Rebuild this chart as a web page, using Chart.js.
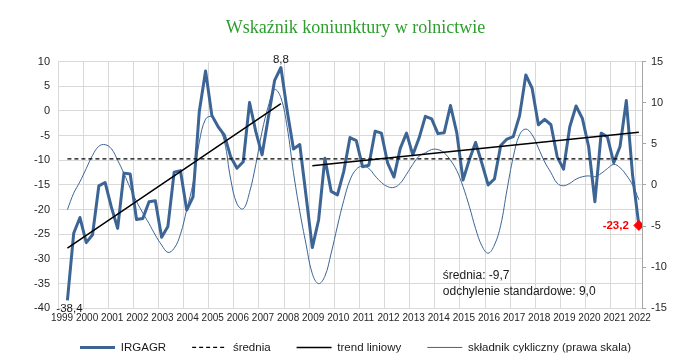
<!DOCTYPE html>
<html>
<head>
<meta charset="utf-8">
<title>Wskaźnik koniunktury w rolnictwie</title>
<script src="https://cdn.jsdelivr.net/npm/chart.js"></script>
<style>
  html, body { margin: 0; padding: 0; background: #fff; }
  #wrap { width: 695px; height: 363px; }
</style>
</head>
<body>
<div id="wrap"><canvas id="chart"></canvas></div>
<script>
// quarterly series: first point 1999 Q2, last point 2022 Q1
const startYear = 1999;
const startQuarter = 2;

// IRGAGR (left scale)
const irgagr = [
  -38.4, -24.8, -21.6, -26.7, -25.1, -15.2, -14.5, -19.5, -23.8, -12.6,
  -12.8, -22.0, -21.8, -18.4, -18.2, -25.6, -23.4, -12.4, -12.1, -20.1,
  -17.4, -0.1, 8.1, -0.9, -3.2, -4.9, -9.3, -11.6, -10.3, 1.7,
  -4.2, -8.9, -1.3, 6.2, 8.8, 0.0, -7.7, -6.8, -17.2, -27.7,
  -22.1, -9.6, -16.3, -17.0, -12.3, -5.4, -6.0, -11.3, -11.0, -4.1,
  -4.5, -10.6, -13.4, -7.6, -4.5, -8.9, -5.5, -1.1, -1.6, -4.6,
  -4.4, 1.1, -4.4, -14.0, -9.9, -6.4, -10.6, -15.0, -13.8, -7.0,
  -5.7, -5.2, -1.0, 7.3, 4.6, -2.8, -1.7, -2.8, -9.3, -11.8,
  -3.2, 1.0, -1.5, -7.2, -18.4, -4.5, -5.3, -10.5, -7.2, 2.1,
  -13.0, -23.2
];

// cyclical component (right scale)
const cyclical = [
  -3.0, -1.0, 0.4, 2.0, 3.6, 4.7, 4.9, 4.4, 3.0, 1.4,
  -0.4, -2.0, -3.4, -4.7, -6.1, -7.3, -8.2, -7.7, -6.0, -3.0,
  0.2, 5.2, 8.0, 8.3, 7.2, 5.3, 0.7, -2.3, -2.9, -0.9,
  2.5, 6.5, 9.6, 11.6, 10.6, 7.0, 1.5, -3.2, -7.2, -10.8,
  -12.0, -11.1, -8.3, -5.0, -1.9, 0.6, 1.9, 2.3, 2.0, 1.1,
  0.3, -0.2, -0.3, 0.2, 1.3, 2.5, 3.5, 3.9, 4.3, 4.3,
  3.9, 3.0, 1.75, -0.2, -2.6, -5.3, -7.4, -8.3, -7.3, -4.9,
  -0.6, 3.4, 6.1, 6.8, 6.1, 4.5, 2.8, 1.5, 0.2, -0.1,
  0.2, 0.7, 1.0, 1.1, 1.0, 1.4, 2.0, 2.5, 2.1, 1.2,
  0.0, -1.8
];

// linear trend: two segments (quarter index -> value)
const trendIndex = [0, 34, 39, 91];
const trendValue = [-27.8, 1.5, -11.1, -4.3];

const meanValue = -9.7;
const stdDev = 9.0;

const blue = '#3C6595';
const fontSans = "'Liberation Sans', Arial, sans-serif";

const quarterX = i => startYear + (startQuarter - 1 + i + 0.5) / 4;
const fmt = v => v.toFixed(1).replace('.', ',');
const last = irgagr.length - 1;

const irgPoints = irgagr.map((v, i) => ({x: quarterX(i), y: v}));
const cycPoints = cyclical.map((v, i) => ({x: quarterX(i), y: v}));
const trendPoints = [
  {x: quarterX(trendIndex[0]), y: trendValue[0]},
  {x: quarterX(trendIndex[1]), y: trendValue[1]},
  {x: quarterX((trendIndex[1] + trendIndex[2]) / 2), y: null},
  {x: quarterX(trendIndex[2]), y: trendValue[2]},
  {x: quarterX(trendIndex[3]), y: trendValue[3]}
];
const meanPoints = [{x: quarterX(0), y: meanValue}, {x: quarterX(last), y: meanValue}];

// labels next to chosen points, stats box
const textNotes = {
  id: 'textNotes',
  afterDatasetsDraw(chart) {
    const {ctx, scales} = chart;
    const irgMeta = chart.getDatasetMeta(0);
    ctx.save();
    ctx.fillStyle = '#1a1a1a';
    ctx.font = '11.5px ' + fontSans;
    ctx.textAlign = 'center';
    ctx.textBaseline = 'middle';

    const p0 = irgMeta.data[0];
    ctx.fillText(fmt(irgagr[0]), p0.x + 2, p0.y + 8);

    const iMax = irgagr.indexOf(Math.max(...irgagr));
    const pm = irgMeta.data[iMax];
    ctx.fillText(fmt(irgagr[iMax]), pm.x, pm.y - 8);

    const pl = chart.getDatasetMeta(4).data[0];
    ctx.fillStyle = '#FF0000';
    ctx.font = 'bold 11.5px ' + fontSans;
    ctx.textAlign = 'right';
    ctx.fillText(fmt(irgagr[last]), pl.x - 10, pl.y + 0.5);

    ctx.fillStyle = '#1a1a1a';
    ctx.font = '12px ' + fontSans;
    ctx.textAlign = 'left';
    const nx = scales.x.getPixelForValue(2014.32);
    const ny = scales.y.getPixelForValue(-33.4);
    ctx.fillText('średnia: ' + fmt(meanValue), nx, ny);
    ctx.fillText('odchylenie standardowe: ' + fmt(stdDev), nx, ny + 16);
    ctx.restore();
  }
};

// the legend keeps wide gaps between items but sits closer to the axis labels
const legendLift = {
  id: 'legendLift',
  afterLayout(chart) {
    chart.legend.top -= 10.6;
    chart.legend.bottom -= 10.6;
  }
};

new Chart(document.getElementById('chart'), {
  type: 'line',
  data: {
    datasets: [
      {
        label: 'IRGAGR',
        data: irgPoints,
        borderColor: blue,
        borderWidth: 3,
        borderJoinStyle: 'round',
        pointRadius: 0,
        tension: 0,
        yAxisID: 'y',
        order: 2
      },
      {
        label: 'średnia',
        data: meanPoints,
        borderColor: '#000000',
        borderWidth: 1.3,
        borderDash: [4, 3],
        pointRadius: 0,
        yAxisID: 'y',
        order: 1
      },
      {
        label: 'trend liniowy',
        data: trendPoints,
        borderColor: '#000000',
        borderWidth: 1.5,
        pointRadius: 0,
        spanGaps: false,
        yAxisID: 'y',
        order: 0
      },
      {
        label: 'składnik cykliczny (prawa skala)',
        data: cycPoints,
        borderColor: blue,
        borderWidth: 1,
        pointRadius: 0,
        tension: 0.4,
        yAxisID: 'y2',
        order: 3
      },
      {
        label: '',
        data: [irgPoints[last]],
        showLine: false,
        pointStyle: 'rectRot',
        pointRadius: 5,
        pointBackgroundColor: '#FF0000',
        pointBorderColor: '#FF0000',
        yAxisID: 'y',
        order: -1
      }
    ]
  },
  options: {
    responsive: true,
    maintainAspectRatio: false,
    animation: false,
    layout: { padding: { left: 16, right: 0, top: 0, bottom: 0 } },
    plugins: {
      tooltip: { enabled: false },
      title: {
        display: true,
        text: 'Wskaźnik koniunktury w rolnictwie',
        color: '#2E9E2E',
        font: { family: "'Liberation Serif', 'Times New Roman', serif", size: 18, weight: 'normal' },
        padding: { top: 17, bottom: 23 }
      },
      legend: {
        position: 'bottom',
        maxHeight: 36.7,
        labels: {
          usePointStyle: true,
          pointStyleWidth: 35,
          padding: 26,
          color: '#1a1a1a',
          font: { family: fontSans, size: 11.5 },
          generateLabels: chart => chart.data.datasets
            .map((ds, i) => ({
              text: ds.label,
              datasetIndex: i,
              strokeStyle: ds.borderColor,
              fillStyle: ds.borderColor,
              lineWidth: ds.borderWidth,
              lineDash: ds.borderDash || [],
              pointStyle: 'line',
              hidden: false,
              fontColor: '#1a1a1a'
            }))
            .filter(item => item.text)
        }
      }
    },
    scales: {
      x: {
        type: 'linear',
        min: 1999,
        max: 2022.25,
        afterFit: s => { s.height = 18; },
        border: { display: false },
        grid: { color: '#D9D9D9', drawTicks: false },
        ticks: {
          stepSize: 1,
          includeBounds: false,
          autoSkip: false,
          maxRotation: 0,
          padding: 4,
          labelOffset: 4,
          color: '#262626',
          font: { family: fontSans, size: 10 },
          callback: v => String(v)
        }
      },
      y: {
        position: 'left',
        min: -40,
        max: 10,
        afterFit: s => { s.width = 42; },
        border: { display: false },
        grid: { color: '#D9D9D9', drawTicks: false },
        ticks: {
          stepSize: 5,
          padding: 8,
          color: '#262626',
          font: { family: fontSans, size: 11 }
        }
      },
      y2: {
        position: 'right',
        min: -15,
        max: 15,
        afterFit: s => { s.width = 53; },
        border: { display: true, color: '#A6A6A6' },
        grid: { drawOnChartArea: false, color: '#A6A6A6', tickLength: 4 },
        ticks: {
          stepSize: 5,
          padding: 5,
          color: '#262626',
          font: { family: fontSans, size: 11 }
        }
      }
    }
  },
  plugins: [textNotes, legendLift]
});
</script>
</body>
</html>
